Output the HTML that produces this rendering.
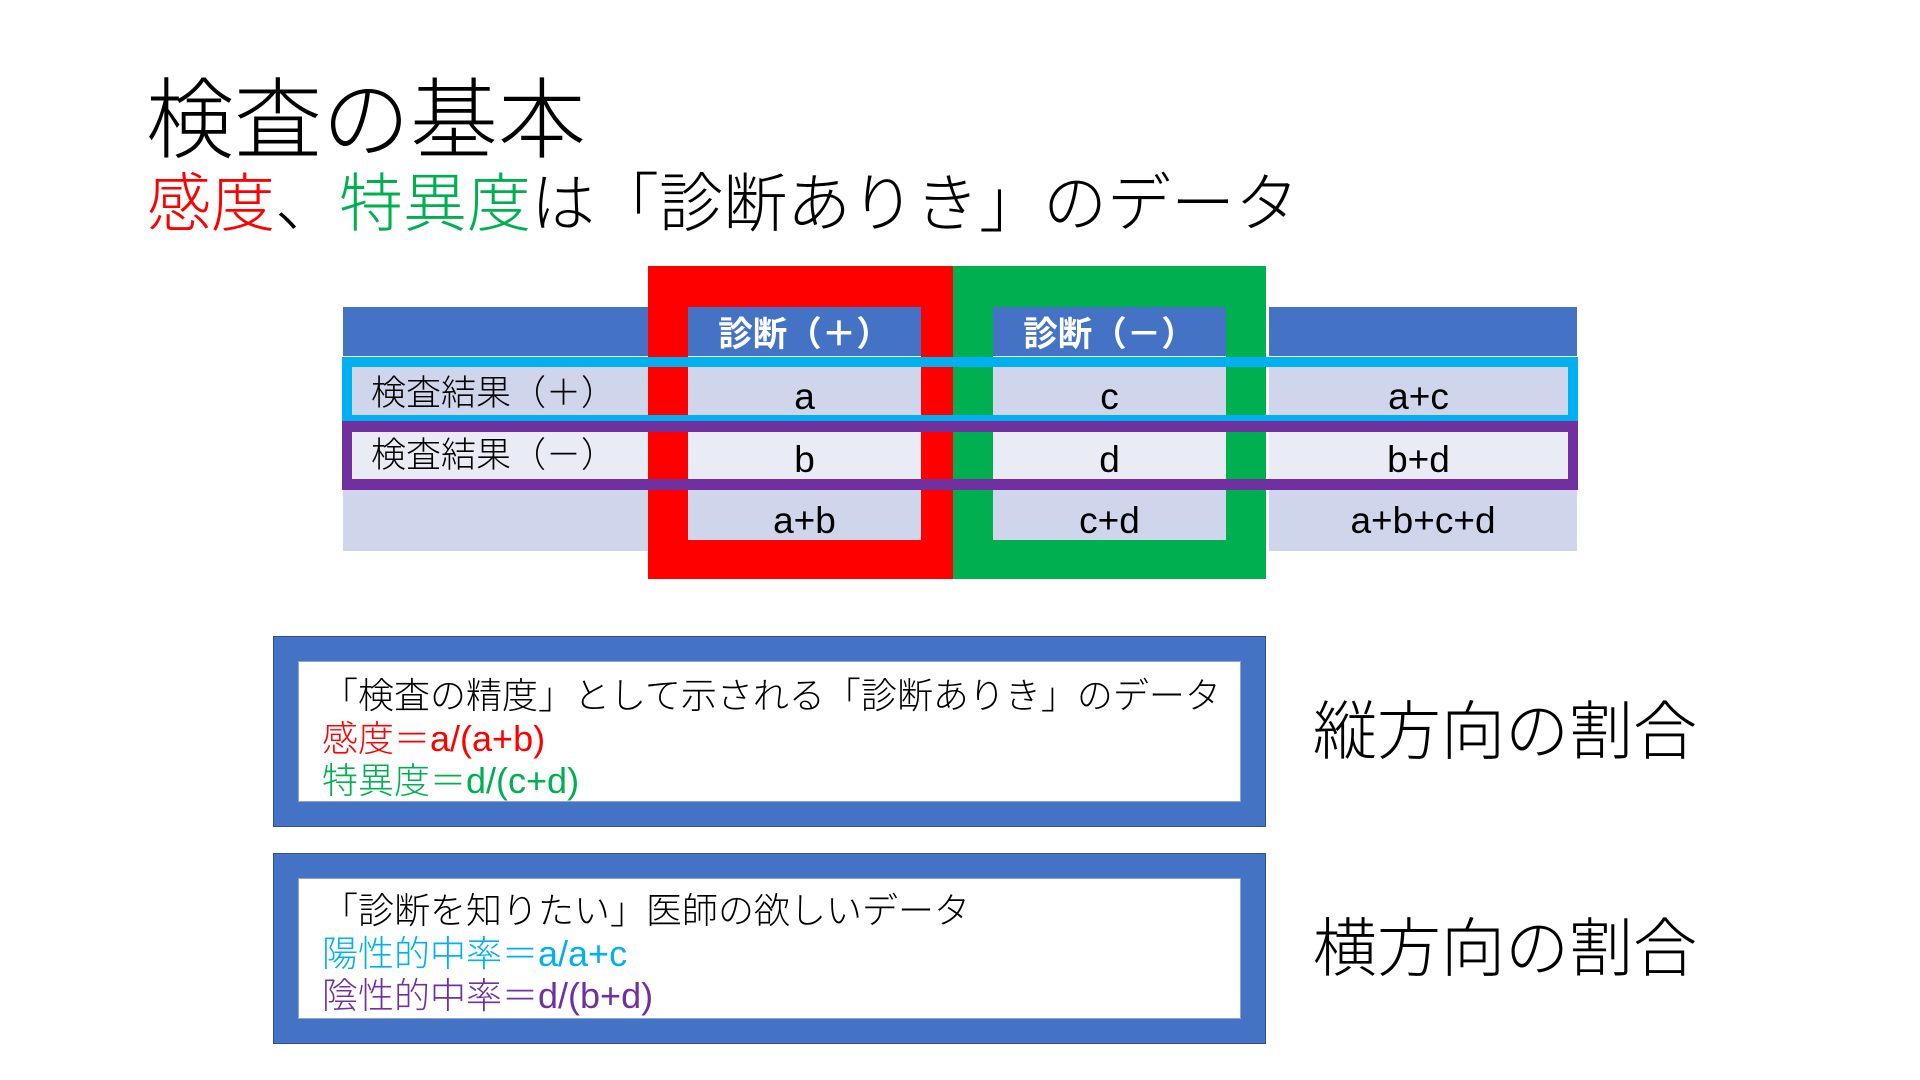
<!DOCTYPE html>
<html lang="ja">
<head>
<meta charset="utf-8">
<style>
  html, body { margin: 0; padding: 0; }
  body {
    width: 1920px; height: 1080px; position: relative; overflow: hidden;
    background: #ffffff;
    font-family: "Liberation Sans", "Noto Sans CJK JP", sans-serif;
    font-weight: 300;
    color: #000;
  }
  .a { position: absolute; white-space: nowrap; }
  .t { position: absolute; white-space: nowrap; line-height: 1; }
  .blue { background: #4472C4; }
  .r1 { background: #CFD5EA; }
  .r2 { background: #E9EBF5; }
  .cell { position: absolute; text-align: center; line-height: 1; white-space: nowrap; }
  .hdr { font-weight: 700; color: #fff; font-size: 34.5px; }
  .lt { font-size: 37px; font-weight: 400; }
  .lbl { font-size: 35px; }
  .box { position: absolute; background: #4472C4; border: 1px solid #2F528F; box-sizing: border-box; }
  .inner { position: absolute; background: #fff; border: 1px solid #8EA3CF; box-sizing: border-box; }
  .bl { font-size: 36px; }
  .red { color: #FF0000; }
  .green { color: #00B050; }
  .cyan { color: #00B0F0; }
  .purple { color: #7030A0; }
  .lat { font-weight: 400; }
</style>
</head>
<body>

<!-- Title -->
<div class="t" style="left:146px; top:77px; font-size:88px;">検査の基本</div>
<div class="t" style="left:147px; top:172px; font-size:64px;"><span class="red">感度</span>、<span class="green">特異度</span>は「診断ありき」のデータ</div>

<!-- Table backgrounds -->
<div class="a blue" style="left:343px; top:306px; width:923px; height:50px; border-top:1px solid #fff; box-sizing:border-box;"></div>
<div class="a blue" style="left:1269px; top:306px; width:308px; height:50px; border-top:1px solid #fff; box-sizing:border-box;"></div>
<div class="a r1" style="left:343px; top:357px; width:923px; height:64px;"></div>
<div class="a r1" style="left:1269px; top:357px; width:308px; height:64px;"></div>
<div class="a r2" style="left:343px; top:421px; width:923px; height:69px;"></div>
<div class="a r2" style="left:1269px; top:421px; width:308px; height:69px;"></div>
<div class="a r1" style="left:343px; top:490px; width:923px; height:61px;"></div>
<div class="a r1" style="left:1269px; top:490px; width:308px; height:61px;"></div>

<!-- Red & green frames -->
<div class="a" style="left:648px; top:266px; width:305px; height:313px; box-sizing:border-box; border-style:solid; border-color:#FF0000; border-width:41px 32px 39px 40px;"></div>
<div class="a" style="left:953px; top:266px; width:313px; height:313px; box-sizing:border-box; border-style:solid; border-color:#00B050; border-width:41px 40px 39px 40px;"></div>

<!-- Cyan & purple frames -->
<div class="a" style="left:342px; top:357px; width:1236px; height:68px; box-sizing:border-box; border:10px solid #00B0F0;"></div>
<div class="a" style="left:342px; top:421px; width:1236px; height:69px; box-sizing:border-box; border-style:solid; border-color:#7030A0; border-width:11px 10px 11px 10px;"></div>

<!-- Header text -->
<div class="cell hdr" style="left:688px; top:318px; width:233px;">診断（＋）</div>
<div class="cell hdr" style="left:993px; top:318px; width:233px;">診断（－）</div>

<!-- Row labels -->
<div class="t lbl" style="left:371px; top:376px;">検査結果（＋）</div>
<div class="t lbl" style="left:371px; top:438px;">検査結果（－）</div>

<!-- Cell values -->
<div class="cell lt" style="left:688px; top:378px; width:233px;">a</div>
<div class="cell lt" style="left:993px; top:378px; width:233px;">c</div>
<div class="cell lt" style="left:1269px; top:378px; width:299px;">a+c</div>

<div class="cell lt" style="left:688px; top:441px; width:233px;">b</div>
<div class="cell lt" style="left:993px; top:441px; width:233px;">d</div>
<div class="cell lt" style="left:1269px; top:441px; width:299px;">b+d</div>

<div class="cell lt" style="left:688px; top:502px; width:233px;">a+b</div>
<div class="cell lt" style="left:993px; top:502px; width:233px;">c+d</div>
<div class="cell lt" style="left:1269px; top:502px; width:308px;">a+b+c+d</div>

<!-- Bottom box 1 -->
<div class="box" style="left:273px; top:636px; width:993px; height:191px;"></div>
<div class="inner" style="left:298px; top:661px; width:943px; height:141px;"></div>
<div class="t bl" style="left:322px; top:678px;">「検査の精度」として示される「診断ありき」のデータ</div>
<div class="t bl red" style="left:322px; top:721px;">感度＝<span class="lat">a/(a+b)</span></div>
<div class="t bl green" style="left:322px; top:763px;">特異度＝<span class="lat">d/(c+d)</span></div>

<!-- Bottom box 2 -->
<div class="box" style="left:273px; top:853px; width:993px; height:191px;"></div>
<div class="inner" style="left:298px; top:878px; width:943px; height:141px;"></div>
<div class="t bl" style="left:322px; top:893px;">「診断を知りたい」医師の欲しいデータ</div>
<div class="t bl cyan" style="left:322px; top:936px;">陽性的中率＝<span class="lat">a/a+c</span></div>
<div class="t bl purple" style="left:322px; top:978px;">陰性的中率＝<span class="lat">d/(b+d)</span></div>

<!-- Right labels -->
<div class="t" style="left:1313px; top:700px; font-size:64px;">縦方向の割合</div>
<div class="t" style="left:1313px; top:917px; font-size:64px;">横方向の割合</div>

</body>
</html>
